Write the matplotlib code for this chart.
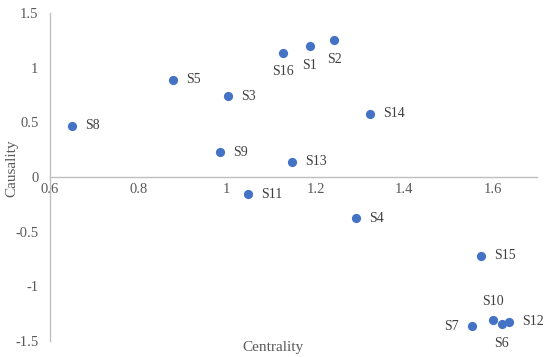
"""Centrality vs causality scatter of the S1-S16 factors."""

import matplotlib

matplotlib.use("Agg")
import matplotlib.pyplot as plt
from matplotlib.ticker import FuncFormatter

labels = ["S1", "S2", "S3", "S4", "S5", "S6", "S7", "S8",
          "S9", "S10", "S11", "S12", "S13", "S14", "S15", "S16"]
centrality = [1.187, 1.242, 1.002, 1.291, 0.879, 1.620, 1.553, 0.650,
              0.985, 1.600, 1.048, 1.637, 1.147, 1.323, 1.573, 1.126]
causality = [1.199, 1.254, 0.743, -0.379, 0.890, -1.349, -1.370, 0.468,
             0.229, -1.309, -0.156, -1.327, 0.138, 0.578, -0.722, 1.140]
x_ticks = [0.6, 0.8, 1.0, 1.2, 1.4, 1.6]
y_ticks = [-1.5, -1, -0.5, 0, 0.5, 1, 1.5]

# where each point label sits relative to its marker
below = {"S1", "S2", "S16", "S6"}
above = {"S10"}
left = {"S7"}

plt.rcParams["font.family"] = ["Liberation Serif", "DejaVu Serif"]

fig = plt.figure(figsize=(5.5, 3.57), dpi=100)
ax = fig.add_axes([0.09, 0.0462, 0.8864, 0.916])

ax.scatter(centrality, causality, s=44, color="#4472C4", zorder=3, linewidths=0)

for name, x, y in zip(labels, centrality, causality):
    if name in below:
        off, ha, va = (0, -19), "center", "center"
    elif name in above:
        off, ha, va = (0, 18), "center", "center"
    elif name in left:
        off, ha, va = (-13, 0), "right", "center"
    else:
        off, ha, va = (13, 0), "left", "center"
    ax.annotate(name, (x, y), xytext=off, textcoords="offset pixels",
                ha=ha, va=va, fontsize=10, color="#404040")

ax.set_xlim(0.6, 1.7)
ax.set_ylim(-1.5, 1.5)
ax.set_xticks(x_ticks)
ax.set_yticks(y_ticks)
fmt = FuncFormatter(lambda v, _: f"{v:g}")
ax.xaxis.set_major_formatter(fmt)
ax.yaxis.set_major_formatter(fmt)
ax.tick_params(length=0, labelsize=10.5, colors="#595959")
ax.tick_params(axis="x", pad=4)
ax.tick_params(axis="y", pad=8)

ax.spines["top"].set_visible(False)
ax.spines["right"].set_visible(False)
ax.spines["bottom"].set_position(("data", 0))
for side in ("left", "bottom"):
    ax.spines[side].set_color("#BFBFBF")
    ax.spines[side].set_linewidth(1.0)

ax.set_xlabel("Centrality", fontsize=11, color="#595959")
ax.set_ylabel("Causality", fontsize=11, color="#595959")
ax.xaxis.set_label_coords(0.458, -0.002)
ax.yaxis.set_label_coords(-0.063, 0.528)

fig.savefig("out.png", dpi=100)
